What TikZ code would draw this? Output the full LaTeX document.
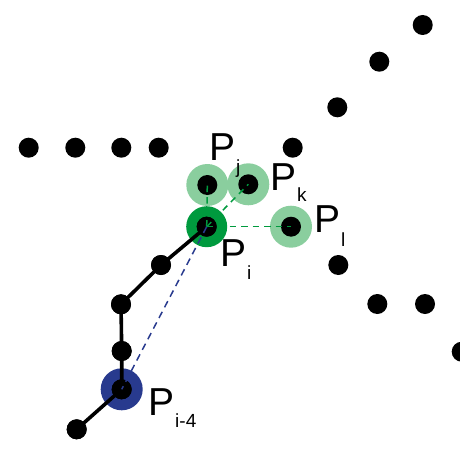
\documentclass[tikz,border=0pt]{standalone}
\usepackage{fontspec}
\setmainfont{Liberation Sans}
\definecolor{halolight}{HTML}{8ACE9E}
\definecolor{halodark}{HTML}{009A3E}
\definecolor{haloblue}{HTML}{283A8E}
\begin{document}
\begin{tikzpicture}[x=1pt,y=-1pt,
 dot/.style={circle,fill=black,minimum size=20pt,inner sep=0pt},
 halo/.style={circle,minimum size=42pt,inner sep=0pt},
 chain/.style={line width=3.6pt},
 gdash/.style={draw=halodark,line width=1.5pt,dash pattern=on 6.5pt off 5pt},
 bdash/.style={draw=haloblue,line width=1.5pt,dash pattern=on 7pt off 5pt},
 lbl/.style={anchor=base west,inner sep=0pt,font=\fontsize{39}{39}\selectfont},
 sub/.style={}]
\useasboundingbox (0,0) rectangle (460,460);
% halos
\node[halo,fill=halolight] (hj) at (207.3,185) {};
\node[halo,fill=halolight] (hk) at (248.3,184.3) {};
\node[halo,fill=halolight] (hl) at (291,226.7) {};
\node[halo,fill=halodark,minimum size=41pt] (hi) at (206.7,226.7) {};
\node[halo,fill=haloblue] (him4) at (121.7,389.3) {};
% dots
\node[dot] (a1) at (28.7,147.7) {};
\node[dot] (a2) at (75.3,147.7) {};
\node[dot] (a3) at (121.3,147.7) {};
\node[dot] (a4) at (158.7,147.7) {};
\node[dot] (a5) at (292.7,147.7) {};
\node[dot] (b1) at (337.3,107.3) {};
\node[dot] (b2) at (379.3,61.7) {};
\node[dot] (b3) at (422.7,25) {};
\node[dot] (pj) at (207.3,185) {};
\node[dot] (pk) at (248.3,184.3) {};
\node[dot] (pl) at (291,226.7) {};
\node[dot] (pi) at (206.7,226.7) {};
\node[dot] (c1) at (161,265) {};
\node[dot] (c2) at (121,304.3) {};
\node[dot] (c3) at (121.7,351) {};
\node[dot] (pim4) at (121.7,389.3) {};
\node[dot] (c5) at (76.7,429.3) {};
\node[dot] (e1) at (338.3,265) {};
\node[dot] (e2) at (377.3,304) {};
\node[dot] (e3) at (425,304) {};
\node[dot] (e4) at (461.7,351.7) {};
% chain
\draw[chain] (pi.center) -- (c1.center) -- (c2.center) -- (c3.center) -- (pim4.center) -- (c5.center);
\foreach \n in {pi,c1,c2,c3,pim4,c5} {\node[dot] at (\n) {};}
% dashed
\draw[gdash] (pi.center) -- (pj.center);
\draw[gdash] (pi.center) -- (pk.center);
\draw[gdash] (pi.center) -- (pl.center);
\draw[bdash] (pi.center) -- (pim4.center);
% labels
\newcommand{\subtxt}[2]{\kern1pt\raisebox{#1}{\fontsize{19}{19}\selectfont #2}}
\node[lbl] (lj) at (209,160) {P\subtxt{-13pt}{j}};
\node[lbl] (lk) at (270,190) {P\subtxt{-11pt}{k}};
\node[lbl] (ll) at (314,232) {P\subtxt{-14pt}{l}};
\node[lbl] (li) at (220,266) {P\subtxt{-13pt}{i}};
\node[lbl] (lim4) at (148,415) {P\subtxt{-12pt}{i-4}};
\end{tikzpicture}
\end{document}
